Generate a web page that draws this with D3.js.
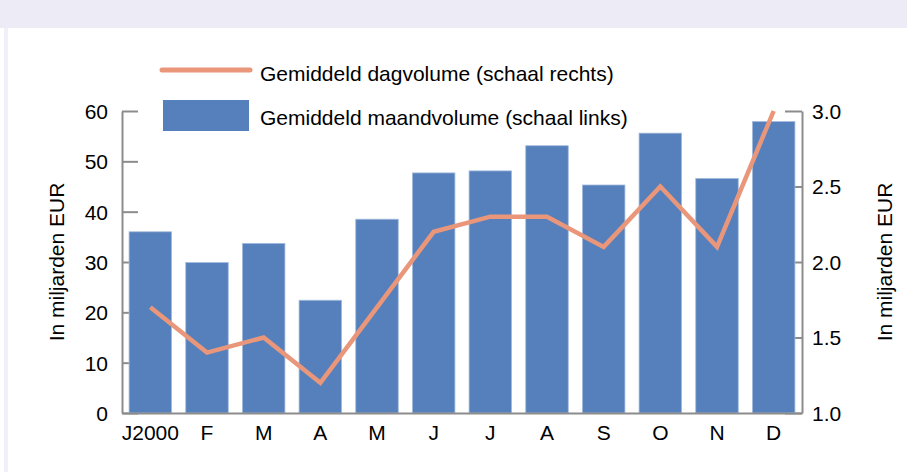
<!DOCTYPE html>
<html>
<head>
<meta charset="utf-8">
<script src="https://cdn.jsdelivr.net/npm/d3@7"></script>
<style>
  body { margin: 0; background: #fff; }
  svg { display: block; }
  text { font-family: "Liberation Sans", Arial, sans-serif; fill: #000; }
</style>
</head>
<body>
<div id="chart"></div>
<script>
// data
var months = ['J2000', 'F', 'M', 'A', 'M', 'J', 'J', 'A', 'S', 'O', 'N', 'D']
var monthVolume = [36.0, 29.9, 33.7, 22.4, 38.5, 47.7, 48.1, 53.1, 45.3, 55.6, 46.6, 57.9]
var dayVolume = [1.7, 1.4, 1.5, 1.2, 1.7, 2.2, 2.3, 2.3, 2.1, 2.5, 2.1, 3.0]
var leftTicks = [0, 10, 20, 30, 40, 50, 60]
var rightTicks = [1.0, 1.5, 2.0, 2.5, 3.0]
var legendLabels = ['Gemiddeld dagvolume (schaal rechts)', 'Gemiddeld maandvolume (schaal links)']
var axisTitle = 'In miljarden EUR'

var width = 907, height = 472
var barColor = '#5580bb', lineColor = '#e9967a', axisColor = '#8c8c8c'
var fontSize = '21px'

var svg = d3.select('#chart').append('svg')
	.attr('width', width).attr('height', height)

// frame
svg.append('rect').attr('x', 0).attr('y', 0).attr('width', width).attr('height', 28)
	.attr('fill', '#edebf6')
svg.append('rect').attr('x', 4).attr('y', 28).attr('width', 4).attr('height', height - 28)
	.attr('fill', '#f1eff8')

var x = d3.scaleBand().domain(d3.range(months.length))
	.range([122, 802]).paddingInner(0.25).paddingOuter(0.125)
var yL = d3.scaleLinear().domain([0, 60]).range([413, 111])
var yR = d3.scaleLinear().domain([1, 3]).range([413, 111])

var yAxisL = svg.append('g').attr('transform', 'translate(122,0)')
	.call(d3.axisLeft(yL).tickValues(leftTicks).tickSize(-16).tickSizeOuter(0).tickPadding(14))
var yAxisR = svg.append('g').attr('transform', 'translate(802,0)')
	.call(d3.axisRight(yR).tickValues(rightTicks).tickFormat(d3.format('.1f'))
		.tickSize(-17).tickSizeOuter(0).tickPadding(10))

;[yAxisL, yAxisR].forEach(function(g) {
	g.select('.domain').attr('stroke', axisColor).attr('stroke-width', 2)
	g.selectAll('.tick line').attr('stroke', axisColor).attr('stroke-width', 2)
	g.selectAll('.tick text').style('font-size', fontSize).attr('dy', '0.35em')
})

// bars
svg.append('g').selectAll('rect').data(monthVolume).join('rect')
	.attr('x', function(d, i) { return x(i) })
	.attr('y', function(d) { return yL(d) })
	.attr('width', x.bandwidth())
	.attr('height', function(d) { return yL(0) - yL(d) })
	.attr('fill', barColor)
	.attr('stroke', '#a3bbdd').attr('stroke-width', 0.8)

// x axis
var xAxis = svg.append('g').attr('transform', 'translate(0,413)')
	.call(d3.axisBottom(x).tickFormat(function(i) { return months[i] }).tickSize(0).tickPadding(12))
xAxis.select('.domain').attr('stroke', axisColor).attr('stroke-width', 2)
xAxis.selectAll('.tick text').style('font-size', fontSize)

// line
var line = d3.line()
	.x(function(d, i) { return x(i) + x.bandwidth() / 2 })
	.y(function(d) { return yR(d) })
svg.append('path').datum(dayVolume)
	.attr('d', line)
	.attr('fill', 'none')
	.attr('stroke', lineColor)
	.attr('stroke-width', 4.5)
	.attr('stroke-linejoin', 'miter')

// axis titles
svg.append('text').attr('transform', 'translate(64,262) rotate(-90)')
	.attr('text-anchor', 'middle').style('font-size', fontSize).text(axisTitle)
svg.append('text').attr('transform', 'translate(892,262) rotate(-90)')
	.attr('text-anchor', 'middle').style('font-size', fontSize).text(axisTitle)

// legend
var legend = svg.append('g')
legend.append('line').attr('x1', 162).attr('x2', 250).attr('y1', 70).attr('y2', 70)
	.attr('stroke', lineColor).attr('stroke-width', 5).attr('stroke-linecap', 'round')
legend.append('text').attr('x', 260).attr('y', 81).style('font-size', fontSize).text(legendLabels[0])
legend.append('rect').attr('x', 163).attr('y', 100).attr('width', 86).attr('height', 31)
	.attr('fill', barColor)
legend.append('text').attr('x', 260).attr('y', 125).style('font-size', fontSize).text(legendLabels[1])
</script>
</body>
</html>
